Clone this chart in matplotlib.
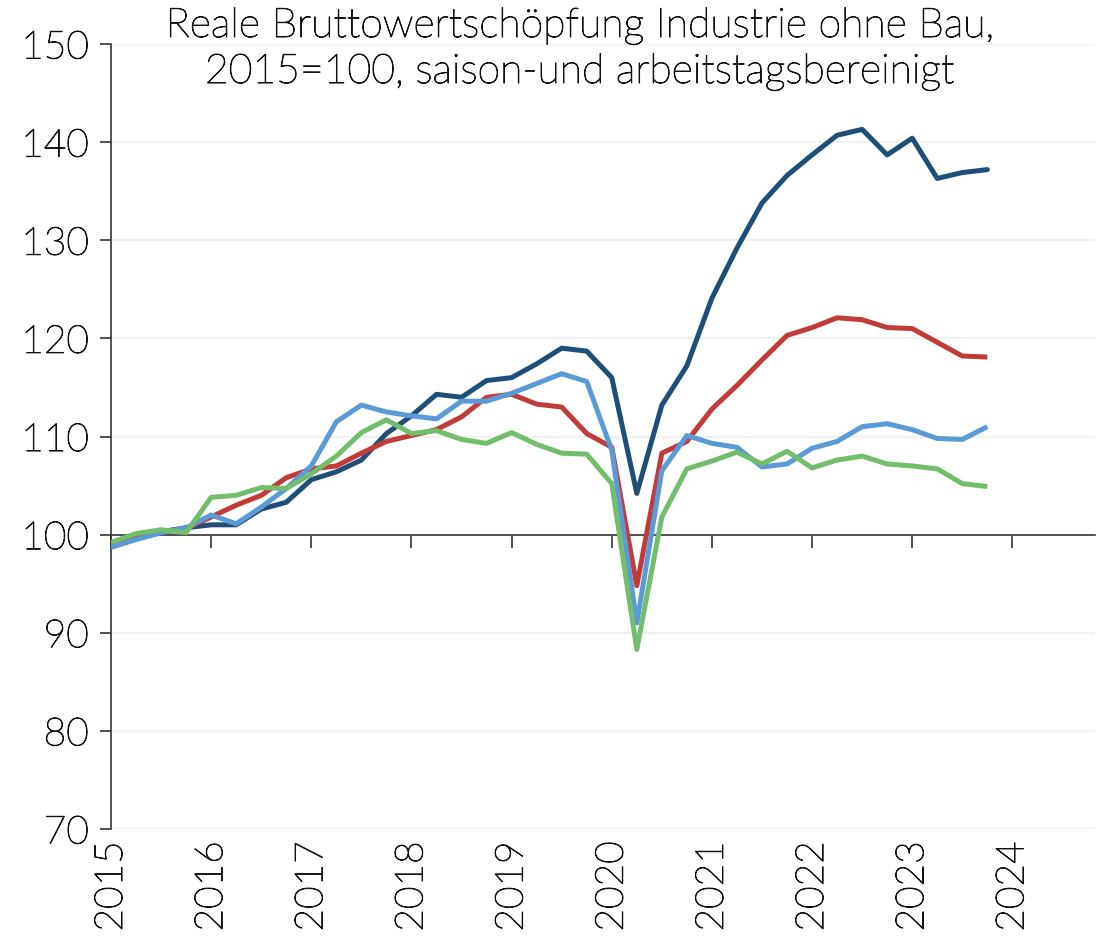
import matplotlib
matplotlib.use("Agg")
import matplotlib.pyplot as plt
import matplotlib.patheffects as pe
import numpy as np

plt.rcParams['font.family'] = ['Lato', 'DejaVu Sans']
plt.rcParams['font.weight'] = 'light'

years = ['2015', '2016', '2017', '2018', '2019', '2020', '2021', '2022', '2023', '2024']

navy = [99.0, 99.7, 100.3, 100.7, 101.0, 101.0, 102.6, 103.3, 105.6, 106.4,
        107.6, 110.3, 112.1, 114.3, 114.0, 115.7, 116.0, 117.4, 119.0, 118.7,
        116.0, 104.2, 113.2, 117.2, 124.1, 129.2, 133.8, 136.6, 138.7, 140.7,
        141.3, 138.7, 140.4, 136.3, 136.9, 137.2]
red = [98.9, 99.6, 100.2, 100.6, 101.8, 103.0, 104.0, 105.8, 106.7, 107.0,
       108.3, 109.5, 110.1, 110.7, 112.0, 114.0, 114.3, 113.3, 113.0, 110.3,
       108.9, 94.8, 108.3, 109.5, 112.8, 115.2, 117.8, 120.3, 121.1, 122.1,
       121.9, 121.1, 121.0, 119.6, 118.2, 118.1]
blue = [98.7, 99.5, 100.2, 100.7, 102.0, 101.1, 102.8, 104.7, 107.0, 111.5,
        113.2, 112.5, 112.1, 111.8, 113.6, 113.6, 114.4, 115.4, 116.4, 115.6,
        108.6, 91.0, 106.5, 110.1, 109.3, 108.9, 106.9, 107.2, 108.8, 109.5,
        111.0, 111.3, 110.7, 109.8, 109.7, 111.0]
green = [99.2, 100.1, 100.5, 100.2, 103.8, 104.0, 104.8, 104.7, 106.2, 108.0,
         110.4, 111.7, 110.3, 110.6, 109.7, 109.3, 110.4, 109.2, 108.3, 108.2,
         105.2, 88.3, 101.8, 106.7, 107.5, 108.4, 107.2, 108.5, 106.8, 107.6,
         108.0, 107.2, 107.0, 106.7, 105.2, 104.9]

series = [(navy, '#1F4E79', 'round'), (red, '#C23B3B', 'butt'),
          (blue, '#5A9BD7', 'butt'), (green, '#72BE6C', 'butt')]

txtc = '#111111'
effect = [pe.withStroke(linewidth=0.7, foreground=txtc)]

W, H = 1101, 940
fig = plt.figure(figsize=(W / 100, H / 100), dpi=100)
ax = fig.add_axes([111 / W, 1 - 829 / H, (1095 - 111) / W, (829 - 44) / H])

x = np.arange(len(navy))
for vals, col, cap in series:
    ax.plot(x, vals, color=col, lw=3.6, solid_capstyle=cap, solid_joinstyle='round', zorder=3)

ax.set_ylim(70, 150)
ax.set_xlim(0, 39.3)
ax.set_yticks(np.arange(70, 151, 10))
ax.yaxis.grid(True, color='#EEF3F0', lw=1.6, zorder=0)
ax.set_axisbelow(True)

for s in ['top', 'right']:
    ax.spines[s].set_visible(False)
ax.spines['left'].set_color('#333333')
ax.spines['left'].set_linewidth(1.2)
ax.spines['bottom'].set_position(('data', 100))
ax.spines['bottom'].set_color('#333333')
ax.spines['bottom'].set_linewidth(1.2)

tick_pos = np.arange(0, 4 * len(years), 4)
ax.set_xticks(tick_pos)
ax.set_xticklabels([])
ax.tick_params(axis='x', direction='out', length=9, width=1.2, color='#333333')
ax.tick_params(axis='y', direction='out', length=8, width=1.2, color='#333333',
               labelsize=28, labelcolor=txtc, pad=8)
for t in ax.get_yticklabels():
    t.set_path_effects(effect)

sec = ax.secondary_xaxis(location=0)
sec.set_xticks(tick_pos)
sec.set_xticklabels(years, rotation=90, fontsize=28, color=txtc)
sec.tick_params(length=0, pad=9)
sec.spines['bottom'].set_visible(False)
for t in sec.get_xticklabels():
    t.set_path_effects(effect)

fig.text(580 / W, 1 - 26 / H, 'Reale Bruttowertschöpfung Industrie ohne Bau,',
         ha='center', va='center', fontsize=29.5, color=txtc, path_effects=effect)
fig.text(580 / W, 1 - 72 / H, '2015=100, saison-und arbeitstagsbereinigt',
         ha='center', va='center', fontsize=29.5, color=txtc, path_effects=effect)

fig.savefig('out.png', dpi=100)
